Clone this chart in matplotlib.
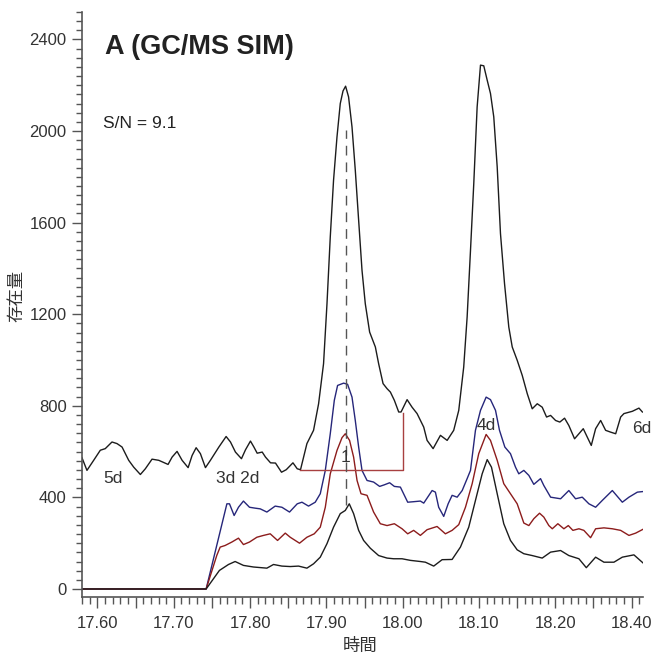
import numpy as np
import matplotlib.pyplot as plt
from matplotlib.ticker import MultipleLocator

# --- data (time in min, abundance) ---
tic_t = [17.5797, 17.5862, 17.5950, 17.6037, 17.6102, 17.6190, 17.6256, 17.6322, 17.6409, 17.6475,
         17.6562, 17.6627, 17.6715, 17.6803, 17.6925, 17.6978, 17.7043, 17.7109, 17.7188, 17.7240,
         17.7293, 17.7349, 17.7415, 17.7480, 17.7591, 17.7686, 17.7743, 17.7808, 17.7887, 17.7940,
         17.8005, 17.8050, 17.8093, 17.8159, 17.8202, 17.8268, 17.8333, 17.8412, 17.8474, 17.8562,
         17.8618, 17.8661, 17.8745, 17.8832, 17.8898, 17.8963, 17.9008, 17.9051, 17.9094, 17.9139,
         17.9182, 17.9218, 17.9252, 17.9291, 17.9336, 17.9379, 17.9423, 17.9467, 17.9510, 17.9567,
         17.9642, 17.9685, 17.9743, 17.9795, 17.9839, 17.9891, 17.9948, 17.9979, 18.0058, 18.0123,
         18.0189, 18.0276, 18.0320, 18.0399, 18.0495, 18.0583, 18.0669, 18.0735, 18.0800, 18.0845,
         18.0889, 18.0932, 18.0976, 18.1020, 18.1063, 18.1108, 18.1151, 18.1194, 18.1239, 18.1282,
         18.1335, 18.1391, 18.1436, 18.1501, 18.1567, 18.1633, 18.1698, 18.1764, 18.1829, 18.1886,
         18.1939, 18.2004, 18.2060, 18.2122, 18.2178, 18.2253, 18.2310, 18.2367, 18.2420, 18.2472,
         18.2529, 18.2595, 18.2660, 18.2726, 18.2792, 18.2857, 18.2900, 18.3010, 18.3097, 18.3142]
tic_v = [573, 518, 562, 606, 613, 642, 635, 620, 562, 532,
         500, 525, 567, 562, 544, 576, 601, 562, 530, 583,
         617, 591, 530, 562, 620, 666, 642, 598, 569, 608,
         646, 620, 593, 598, 576, 551, 550, 510, 521, 551,
         525, 521, 635, 693, 809, 984, 1246, 1537, 1785, 1974,
         2120, 2175, 2196, 2149, 2018, 1829, 1610, 1392, 1246, 1122,
         1057, 984, 897, 875, 860, 824, 773, 773, 827, 794,
         766, 707, 649, 613, 671, 649, 693, 780, 969, 1188,
         1479, 1771, 2105, 2288, 2285, 2222, 2164, 2062, 1843, 1552,
         1334, 1144, 1057, 999, 933, 853, 787, 809, 794, 751,
         758, 736, 729, 746, 714, 656, 678, 700, 663, 627,
         700, 736, 693, 685, 678, 751, 766, 776, 790, 773]

blue_t = [17.5797, 17.7424, 17.7696, 17.7730, 17.7791, 17.7848, 17.7913, 17.7992, 17.8067, 17.8133,
          17.8220, 17.8329, 17.8417, 17.8517, 17.8618, 17.8680, 17.8766, 17.8854, 17.8920, 17.8986,
          17.9051, 17.9104, 17.9147, 17.9226, 17.9278, 17.9336, 17.9379, 17.9423, 17.9467, 17.9533,
          17.9619, 17.9698, 17.9760, 17.9829, 17.9891, 17.9970, 18.0066, 18.0136, 18.0232, 18.0276,
          18.0386, 18.0429, 18.0472, 18.0538, 18.0596, 18.0648, 18.0714, 18.0780, 18.0845, 18.0889,
          18.0954, 18.1020, 18.1094, 18.1151, 18.1217, 18.1269, 18.1339, 18.1413, 18.1479, 18.1522,
          18.1588, 18.1654, 18.1719, 18.1807, 18.1850, 18.1939, 18.2070, 18.2178, 18.2266, 18.2354,
          18.2441, 18.2529, 18.2617, 18.2748, 18.2879, 18.2966, 18.3076, 18.3163]
blue_v = [0, 0, 372, 372, 321, 357, 384, 357, 353, 350,
          336, 362, 357, 336, 372, 379, 362, 379, 416, 518,
          678, 824, 889, 899, 894, 838, 736, 620, 518, 474,
          467, 448, 455, 464, 448, 445, 379, 381, 384, 375,
          430, 423, 357, 317, 372, 409, 401, 430, 482, 518,
          693, 780, 838, 827, 780, 693, 620, 591, 532, 503,
          518, 496, 457, 482, 452, 401, 394, 430, 394, 401,
          372, 357, 387, 430, 379, 401, 423, 426]

red_t = [17.5797, 17.7424, 17.7564, 17.7608, 17.7673, 17.7761, 17.7848, 17.7913, 17.7992, 17.8089,
         17.8176, 17.8264, 17.8360, 17.8461, 17.8526, 17.8648, 17.8745, 17.8841, 17.8920, 17.8986,
         17.9051, 17.9139, 17.9205, 17.9248, 17.9304, 17.9357, 17.9402, 17.9454, 17.9533, 17.9619,
         17.9707, 17.9795, 17.9891, 17.9992, 18.0066, 18.0144, 18.0232, 18.0320, 18.0451, 18.0560,
         18.0648, 18.0735, 18.0823, 18.0911, 18.0997, 18.1094, 18.1151, 18.1239, 18.1325, 18.1413,
         18.1501, 18.1588, 18.1654, 18.1719, 18.1794, 18.1850, 18.1916, 18.1961, 18.2034, 18.2113,
         18.2171, 18.2231, 18.2310, 18.2375, 18.2463, 18.2529, 18.2638, 18.2748, 18.2857, 18.2966,
         18.3054, 18.3163]
red_v = [0, 0, 147, 183, 190, 205, 222, 194, 205, 226,
         234, 241, 212, 244, 226, 200, 226, 241, 270, 357,
         503, 605, 661, 678, 649, 576, 474, 416, 409, 336,
         285, 277, 285, 263, 241, 256, 234, 259, 273, 241,
         256, 281, 357, 460, 591, 675, 649, 562, 460, 416,
         372, 288, 277, 307, 331, 314, 277, 263, 285, 263,
         277, 256, 263, 256, 224, 263, 267, 263, 256, 234,
         244, 263]

low_t = [17.5797, 17.7424, 17.7598, 17.7717, 17.7804, 17.7913, 17.8045, 17.8220, 17.8307, 17.8417,
         17.8526, 17.8635, 17.8745, 17.8832, 17.8920, 17.9008, 17.9094, 17.9182, 17.9248, 17.9300,
         17.9357, 17.9423, 17.9488, 17.9576, 17.9685, 17.9795, 17.9882, 17.9992, 18.0101, 18.0232,
         18.0298, 18.0407, 18.0517, 18.0648, 18.0757, 18.0866, 18.0976, 18.1042, 18.1108, 18.1164,
         18.1239, 18.1325, 18.1413, 18.1501, 18.1588, 18.1698, 18.1829, 18.1939, 18.2070, 18.2178,
         18.2310, 18.2407, 18.2529, 18.2638, 18.2769, 18.2879, 18.3031, 18.3163]
low_v = [0, 0, 81, 107, 120, 103, 96, 91, 107, 100,
         98, 100, 91, 110, 139, 198, 270, 329, 343, 372,
         329, 256, 212, 178, 146, 135, 132, 132, 125, 120,
         117, 100, 128, 129, 183, 270, 416, 503, 565, 532,
         416, 285, 212, 171, 154, 146, 135, 161, 168, 146,
         132, 93, 139, 117, 117, 139, 149, 110]

# integration baseline of peak 1 and its retention-time marker
base_t = [17.866, 18.000, 18.000]
base_v = [521, 521, 767]
rt_peak1 = 17.9257
rt_marker_v = [365, 2005]

xtick_pos = [17.60, 17.65, 17.70, 17.75, 17.80, 17.85, 17.90, 17.95,
             18.00, 18.05, 18.10, 18.15, 18.20, 18.25, 18.30]
xtick_lab = ['17.60', '', '17.70', '', '17.80', '', '17.90', '',
             '18.00', '', '18.10', '', '18.20', '', '18.40']
ytick_pos = [0, 400, 800, 1200, 1600, 2000, 2400]

labels = [('5d', 17.6203, 483), ('3d 2d', 17.7844, 483), ('1', 17.9252, 575),
          ('4d', 18.110, 714), ('6d', 18.3134, 701)]

LAT = ['Liberation Sans Narrow', 'Liberation Sans', 'Noto Sans CJK JP']
CJK = ['Noto Sans CJK JP', 'DejaVu Sans']
plt.rcParams['font.family'] = LAT

fig = plt.figure(figsize=(6.52, 6.57), dpi=100)
ax = fig.add_axes([82 / 652, 1 - 597 / 657, 561 / 652, 585 / 657])

ax.plot(tic_t, tic_v, color='#1c1c1c', lw=1.0)
ax.plot(blue_t, blue_v, color='#26267a', lw=1.0)
ax.plot(red_t, red_v, color='#8c1c1c', lw=1.0)
ax.plot(low_t, low_v, color='#1c1c1c', lw=1.0)
ax.plot(base_t, base_v, color='#a84040', lw=1.0)
ax.plot([rt_peak1, rt_peak1], rt_marker_v, color='#555555', lw=1.0, dashes=(7, 5))

ax.set_xlim(17.5797, 18.315)
ax.set_ylim(-35, 2520)

ax.set_xticks(xtick_pos)
ax.set_xticklabels(xtick_lab)
ax.xaxis.set_minor_locator(MultipleLocator(0.01))
ax.set_yticks(ytick_pos)
ax.yaxis.set_minor_locator(MultipleLocator(40))

for s in ['top', 'right']:
    ax.spines[s].set_visible(False)
for s in ['left', 'bottom']:
    ax.spines[s].set_color('#555555')
    ax.spines[s].set_linewidth(1.2)

ax.tick_params(axis='x', which='major', length=8, width=1.0, color='#555555',
               labelsize=12, pad=6, labelcolor='#333333')
ax.tick_params(axis='x', which='minor', length=5, width=1.0, color='#555555')
ax.tick_params(axis='y', which='major', length=7, width=1.0, color='#555555',
               labelsize=12, pad=4, labelcolor='#333333')
ax.tick_params(axis='y', which='minor', length=4, width=1.0, color='#555555')

ax.set_xlabel('時間', family=CJK, fontsize=12.5, color='#333333')
ax.set_ylabel('存在量', family=CJK, fontsize=12.5, color='#333333')
ax.xaxis.set_label_coords(0.4955, -0.068)
ax.yaxis.set_label_coords(-0.101, 0.5145)

ax.text(0.041, 0.94, 'A (GC/MS SIM)', transform=ax.transAxes, fontsize=19.5,
        fontweight='bold', color='#222222', va='center', ha='left')
ax.text(0.037, 0.81, 'S/N = 9.1', transform=ax.transAxes, fontsize=12.5,
        color='#222222', va='center', ha='left')

for txt, tx, ty in labels:
    ax.text(tx, ty, txt, fontsize=12.5, color='#333333', ha='center', va='center',
            clip_on=False)

fig.savefig('out.png', dpi=100)
